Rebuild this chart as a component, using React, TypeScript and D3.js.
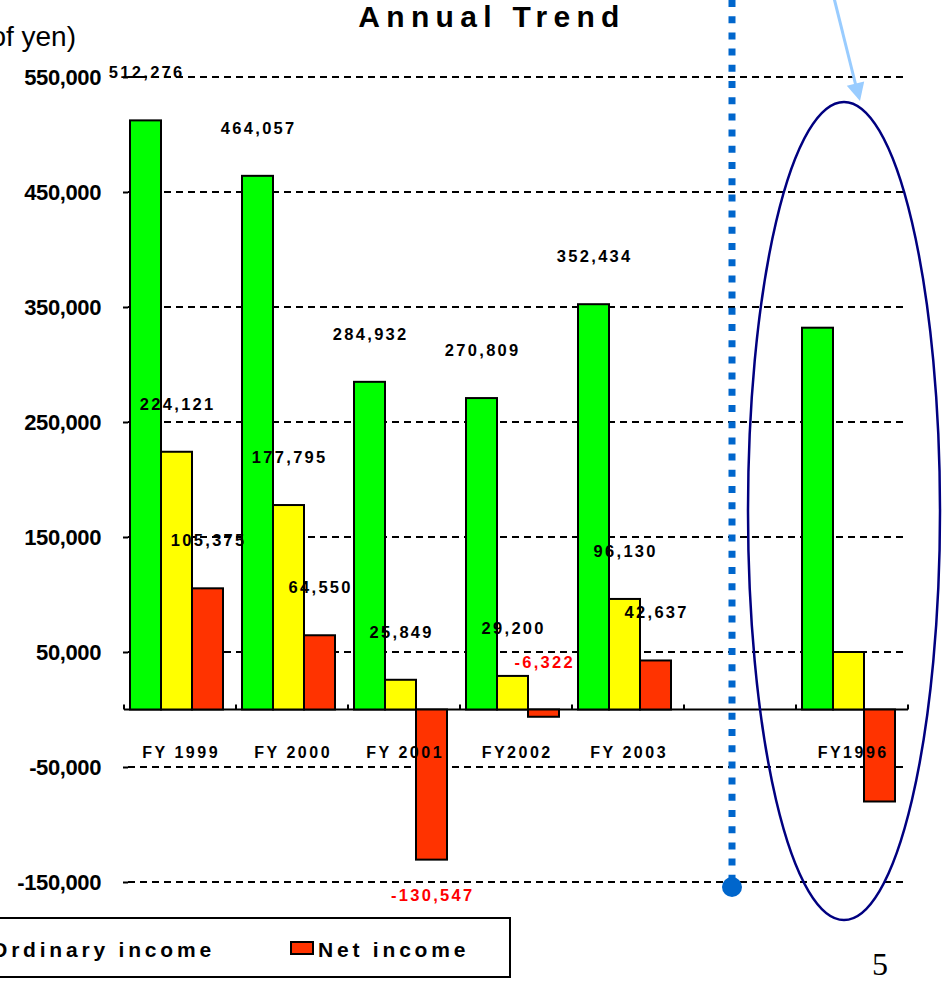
import React, { useRef, useEffect } from "react";
import * as d3 from "d3";

// chart data (millions of yen)
const categories = ["FY 1999", "FY 2000", "FY 2001", "FY2002", "FY 2003", "", "FY1996"];
const seriesNames = ["Operating income", "Ordinary income", "Net income"];
const seriesColors = ["#00FF00", "#FFFF00", "#FF3300"];
const operatingIncome = [512276, 464057, 284932, 270809, 352434, null, 332000];
const ordinaryIncome = [224121, 177795, 25849, 29200, 96130, null, 50000];
const netIncome = [105375, 64550, -130547, -6322, 42637, null, -80000];
const showLabel = [true, true, true, true, true, false, false];
const yTicks = [550000, 450000, 350000, 250000, 150000, 50000, -50000, -150000];

const FONT = "Arial, 'Liberation Sans', sans-serif";

function App() {
    const svgRef = useRef<SVGSVGElement>(null);
    useEffect(() => {
        const svg = d3.select(svgRef.current);
        svg.selectChildren().remove();

        const fmt = d3.formatLocale({ decimal: ".", thousands: ",", grouping: [3], currency: ["", ""], minus: "-" }).format(",");
        const series = [operatingIncome, ordinaryIncome, netIncome];

        const y = d3.scaleLinear().domain([-150000, 550000]).range([882, 77]);
        const x0 = d3.scaleBand<number>()
            .domain(categories.map((c, i) => i))
            .range([124, 908]);
        const x1 = d3.scaleBand<string>().domain(seriesNames).range([6, 99]);
        const y0 = y(0);

        // grid lines
        svg.append("g")
            .selectAll("line")
            .data(yTicks)
            .join("line")
            .attr("x1", 128).attr("x2", 908)
            .attr("y1", d => y(d)).attr("y2", d => y(d))
            .attr("stroke", "#000")
            .attr("stroke-width", 2)
            .attr("stroke-dasharray", "7 5");

        // y axis
        const ya = svg.append("g")
            .attr("transform", "translate(128,0)")
            .call(d3.axisLeft(y).tickValues(yTicks).tickSize(5).tickPadding(22).tickFormat(d => fmt(d as number)));
        ya.select(".domain").remove();
        ya.selectAll("line").attr("stroke", "#000").attr("stroke-width", 2);
        ya.selectAll("text")
            .attr("font-family", FONT)
            .attr("font-size", 22)
            .attr("font-weight", "bold")
            .attr("letter-spacing", -0.4)
            .attr("fill", "#000");

        // dotted separator
        svg.append("line")
            .attr("x1", 732).attr("x2", 732)
            .attr("y1", 0).attr("y2", 880)
            .attr("stroke", "#0066CC")
            .attr("stroke-width", 7)
            .attr("stroke-dasharray", "7 9.2");
        svg.append("circle")
            .attr("cx", 732).attr("cy", 887).attr("r", 10)
            .attr("fill", "#0066CC");

        // x axis
        svg.append("line")
            .attr("x1", 124).attr("x2", 908)
            .attr("y1", y0).attr("y2", y0)
            .attr("stroke", "#000").attr("stroke-width", 2);
        const bounds = categories.map((c, i) => x0(i) as number).concat([908]);
        svg.append("g")
            .selectAll("line")
            .data(bounds)
            .join("line")
            .attr("x1", d => d).attr("x2", d => d)
            .attr("y1", y0).attr("y2", y0 - 5)
            .attr("stroke", "#000").attr("stroke-width", 2);

        // bars
        series.forEach((vals, s) => {
            svg.append("g")
                .selectAll("rect")
                .data(vals.map((v, i) => ({ v, i })).filter(d => d.v !== null))
                .join("rect")
                .attr("x", d => (x0(d.i) as number) + (x1(seriesNames[s]) as number))
                .attr("width", x1.bandwidth())
                .attr("y", d => Math.min(y(d.v as number), y0))
                .attr("height", d => Math.abs(y(d.v as number) - y0))
                .attr("fill", seriesColors[s])
                .attr("stroke", "#000")
                .attr("stroke-width", 2);
        });

        // category labels
        svg.append("g")
            .selectAll("text")
            .data(categories)
            .join("text")
            .attr("x", (d, i) => (x0(i) as number) + x0.bandwidth() / 2 + 1.2)
            .attr("y", 758)
            .attr("text-anchor", "middle")
            .attr("font-family", FONT)
            .attr("font-size", 16)
            .attr("font-weight", "bold")
            .attr("letter-spacing", 2.5)
            .text(d => d);

        // value labels
        series.forEach((vals, s) => {
            svg.append("g")
                .selectAll("text")
                .data(vals.map((v, i) => ({ v, i })).filter(d => d.v !== null && showLabel[d.i]))
                .join("text")
                .attr("x", d => (x0(d.i) as number) + (x1(seriesNames[s]) as number) + x1.bandwidth() / 2 + 1.2)
                .attr("y", d => {
                    const v = d.v as number;
                    if (v < 0 && y(v) - y0 > 40) return y(v) + 41;
                    return y(Math.max(v, 0)) - 42;
                })
                .attr("text-anchor", "middle")
                .attr("font-family", FONT)
                .attr("font-size", 16.5)
                .attr("font-weight", "bold")
                .attr("letter-spacing", 2.3)
                .attr("fill", d => ((d.v as number) < 0 ? "#FF0000" : "#000"))
                .text(d => fmt(d.v as number));
        });

        // title and unit
        svg.append("text")
            .attr("x", 492).attr("y", 27)
            .attr("text-anchor", "middle")
            .attr("font-family", FONT)
            .attr("font-size", 30)
            .attr("font-weight", "bold")
            .attr("letter-spacing", 6.3)
            .text("Annual Trend");
        svg.append("text")
            .attr("x", 76).attr("y", 46)
            .attr("text-anchor", "end")
            .attr("font-family", FONT)
            .attr("font-size", 28)
            .text("(Millions of yen)");

        // highlight ellipse and arrow
        svg.append("ellipse")
            .attr("cx", 844).attr("cy", 511)
            .attr("rx", 96).attr("ry", 409)
            .attr("fill", "none")
            .attr("stroke", "#000080")
            .attr("stroke-width", 2.5);
        svg.append("line")
            .attr("x1", 834).attr("y1", -2)
            .attr("x2", 856).attr("y2", 86)
            .attr("stroke", "#99CCFF")
            .attr("stroke-width", 3);
        svg.append("polygon")
            .attr("points", "860,101 864.2,81.4 846.8,85.8")
            .attr("fill", "#99CCFF");

        // legend
        const lg = svg.append("g");
        lg.append("rect")
            .attr("x", -300).attr("y", 918)
            .attr("width", 810).attr("height", 59)
            .attr("fill", "#fff")
            .attr("stroke", "#000")
            .attr("stroke-width", 2);
        const legendX = [-300, -36, 291];
        seriesNames.forEach((name, s) => {
            lg.append("rect")
                .attr("x", legendX[s]).attr("y", 942)
                .attr("width", 22).attr("height", 12)
                .attr("fill", seriesColors[s])
                .attr("stroke", "#000")
                .attr("stroke-width", 2);
            lg.append("text")
                .attr("x", legendX[s] + 27).attr("y", 957)
                .attr("font-family", FONT)
                .attr("font-size", 21)
                .attr("font-weight", "bold")
                .attr("letter-spacing", 3.8)
                .text(name);
        });

        // page number
        svg.append("text")
            .attr("x", 880).attr("y", 975)
            .attr("text-anchor", "middle")
            .attr("font-family", "'Liberation Serif', 'Times New Roman', serif")
            .attr("font-size", 32)
            .text("5");
    }, []);

    return (
        <svg
            ref={svgRef}
            width={945}
            height={982}
            style={{ position: "absolute", left: 0, top: 0, background: "#fff" }}
        ></svg>
    );
}

export default App;
